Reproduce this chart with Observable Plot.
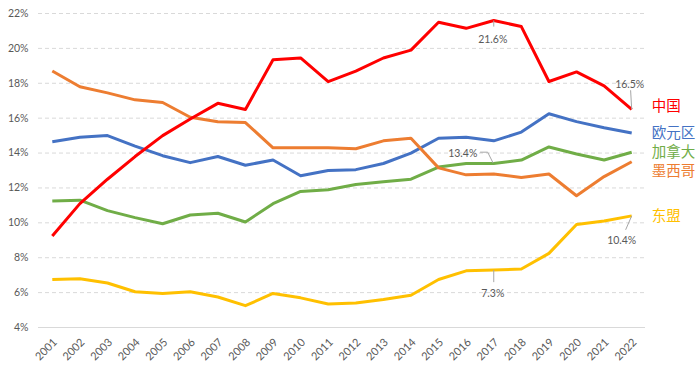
<!DOCTYPE html>
<html>
<head>
<meta charset="utf-8">
<script src="https://cdn.jsdelivr.net/npm/d3@7"></script>
<script src="https://cdn.jsdelivr.net/npm/@observablehq/plot@0.6"></script>
<style>
  html, body { margin: 0; padding: 0; background: #ffffff; }
  #chart svg { display: block; }
</style>
</head>
<body>
<div id="chart"></div>
<script>
// Share of US goods imports by partner, 2001–2022 (%)
const years = [2001, 2002, 2003, 2004, 2005, 2006, 2007, 2008, 2009, 2010, 2011,
               2012, 2013, 2014, 2015, 2016, 2017, 2018, 2019, 2020, 2021, 2022];
const china    = [9.25, 11.1, 12.5, 13.8, 15.0, 15.95, 16.85, 16.5, 19.35, 19.45, 18.1,
                  18.7, 19.45, 19.9, 21.5, 21.15, 21.6, 21.25, 18.1, 18.65, 17.85, 16.5];
const euroArea = [14.65, 14.9, 15.0, 14.4, 13.85, 13.45, 13.8, 13.3, 13.6, 12.7, 13.0,
                  13.05, 13.4, 14.0, 14.85, 14.9, 14.7, 15.2, 16.25, 15.8, 15.45, 15.15];
const canada   = [11.25, 11.3, 10.7, 10.3, 9.95, 10.45, 10.55, 10.05, 11.1, 11.8, 11.9,
                  12.2, 12.35, 12.5, 13.2, 13.4, 13.4, 13.6, 14.35, 13.95, 13.6, 14.05];
const mexico   = [18.7, 17.8, 17.45, 17.05, 16.9, 16.05, 15.8, 15.75, 14.3, 14.3, 14.3,
                  14.25, 14.7, 14.85, 13.15, 12.75, 12.8, 12.6, 12.8, 11.55, 12.65, 13.5];
const asean    = [6.75, 6.8, 6.55, 6.05, 5.95, 6.05, 5.75, 5.25, 5.95, 5.7, 5.35,
                  5.4, 5.6, 5.85, 6.75, 7.25, 7.3, 7.35, 8.25, 9.9, 10.1, 10.4];

const seriesNames  = ["中国", "欧元区", "加拿大", "墨西哥", "东盟"];
const seriesValues = [china, euroArea, canada, mexico, asean];
const seriesColors = ["#FF0000", "#4472C4", "#70AD47", "#ED7D31", "#FFC000"];
const yTicks = [4, 6, 8, 10, 12, 14, 16, 18, 20, 22];

// long-format table: one row per partner and year
const rows = seriesNames.flatMap((name, i) =>
  years.map((year, j) => ({name, year, value: seriesValues[i][j]})));
const colorOf = Object.fromEntries(seriesNames.map((n, i) => [n, seriesColors[i]]));
const rowsOf = name => rows.filter(r => r.name === name);
const at = (name, year) => rows.find(r => r.name === name && r.year === year);

const textGray = "#595959";
const leaderGray = "#a6a6a6";
const font = "Lato, 'Noto Sans CJK SC', sans-serif";

// China sits on top of the other lines
const drawOrder = ["欧元区", "加拿大", "墨西哥", "东盟", "中国"];
// vertical nudges so the end labels don't collide
const endLabelDy = {"中国": -3, "欧元区": 0, "加拿大": 0, "墨西哥": 10, "东盟": 1};

const marks = [
  // dashed horizontal gridlines, solid baseline
  Plot.ruleY(yTicks.filter(t => t > 4), {stroke: "#d9d9d9", strokeWidth: 1, strokeDasharray: "4,3"}),
  Plot.ruleY([4], {stroke: "#d9d9d9", strokeWidth: 1}),
  Plot.axisY(yTicks, {
    tickSize: 0, tickPadding: 10, tickFormat: d => d + "%", label: null,
    color: textGray, fontSize: 10.5
  }),
  // rotated year labels under the baseline
  Plot.text(years, {
    x: d => d, frameAnchor: "bottom", text: d => String(d),
    rotate: -45, textAnchor: "end", lineAnchor: "middle",
    dx: 3, dy: 13, fill: textGray, fontSize: 11
  }),
  ...drawOrder.map(name => Plot.line(rowsOf(name), {
    x: "year", y: "value", stroke: colorOf[name], strokeWidth: 3,
    strokeLinejoin: "round", strokeLinecap: "butt"
  })),
  // partner names at the right end of each line
  ...seriesNames.map(name => Plot.text([at(name, 2022)], {
    x: "year", y: "value", text: "name", fill: colorOf[name],
    textAnchor: "start", dx: 20, dy: endLabelDy[name], fontSize: 14.5
  })),

  // value callouts with leader lines
  Plot.link([at("中国", 2017)], {x1: "year", x2: "year", y1: "value", y2: d => d.value - 0.35, stroke: leaderGray}),
  Plot.text([at("中国", 2017)], {x: "year", y: "value", text: d => d.value.toFixed(1) + "%", dx: -1, dy: 19, fill: textGray, fontSize: 10.5}),

  Plot.link([at("中国", 2022)], {x1: "year", x2: d => d.year - 0.04, y1: "value", y2: d => d.value + 1.1, stroke: leaderGray}),
  Plot.text([at("中国", 2022)], {x: "year", y: "value", text: d => d.value.toFixed(1) + "%", dx: -2, dy: -25, fill: textGray, fontSize: 10.5}),

  Plot.line([
    {year: at("加拿大", 2017).year - 0.48, value: at("加拿大", 2017).value + 0.65},
    {year: at("加拿大", 2017).year - 0.22, value: at("加拿大", 2017).value + 0.65},
    {year: at("加拿大", 2017).year - 0.03, value: at("加拿大", 2017).value + 0.05}
  ], {x: "year", y: "value", stroke: leaderGray, strokeWidth: 1}),
  Plot.text([at("加拿大", 2017)], {x: "year", y: "value", text: d => d.value.toFixed(1) + "%", dx: -31, dy: -10, fill: textGray, fontSize: 10.5}),

  Plot.link([at("东盟", 2017)], {x1: "year", x2: "year", y1: "value", y2: d => d.value - 0.7, stroke: leaderGray}),
  Plot.text([at("东盟", 2017)], {x: "year", y: "value", text: d => d.value.toFixed(1) + "%", dx: -1, dy: 24, fill: textGray, fontSize: 10.5}),

  Plot.link([at("东盟", 2022)], {x1: "year", x2: d => d.year - 0.22, y1: "value", y2: d => d.value - 0.8, stroke: leaderGray}),
  Plot.text([at("东盟", 2022)], {x: "year", y: "value", text: d => d.value.toFixed(1) + "%", dx: -10, dy: 25, fill: textGray, fontSize: 10.5})
];

const chart = Plot.plot({
  width: 700,
  height: 366,
  marginLeft: 38,
  marginRight: 55,
  marginTop: 13,
  marginBottom: 39,
  style: {fontFamily: font, background: "#ffffff", overflow: "visible"},
  x: {type: "linear", domain: [2000.5, 2022.5], axis: null},
  y: {domain: [4, 22], axis: null},
  marks
});
document.getElementById("chart").appendChild(chart);
</script>
</body>
</html>
